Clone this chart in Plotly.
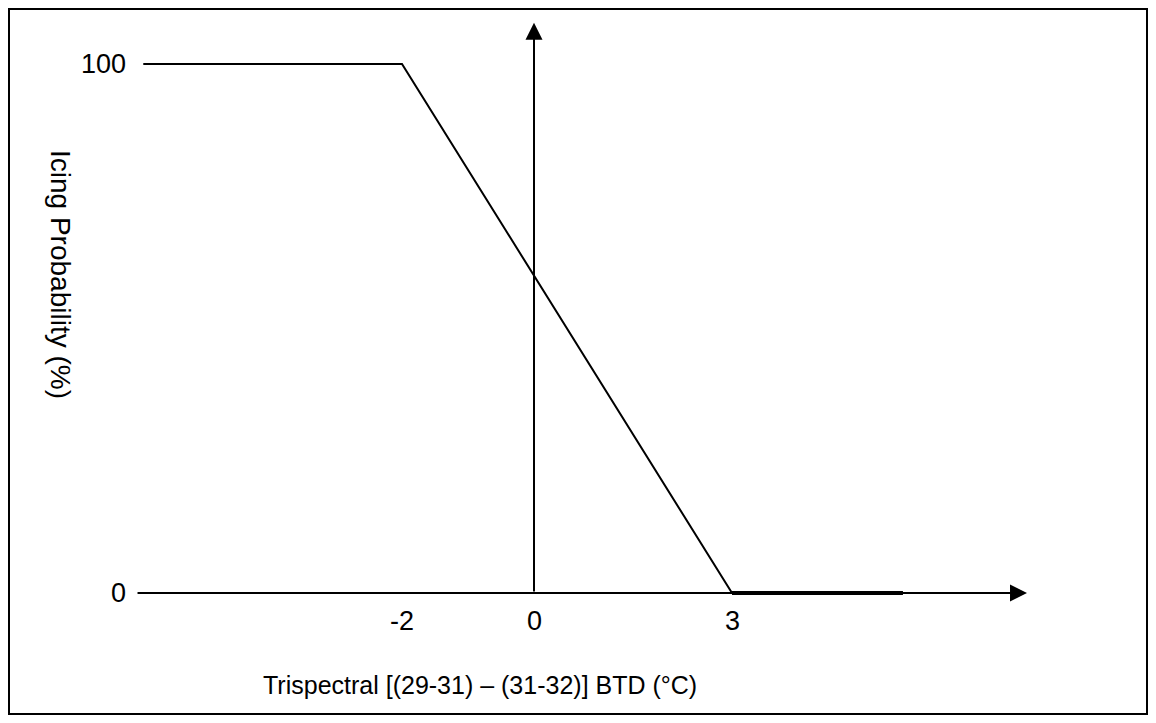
import plotly.graph_objects as go

# icing probability curve (BTD in deg C -> probability %)
prob_x = [-5.92, -2, 3]
prob_y = [100, 100, 0]
tail_x = [3, 5.59]
tail_y = [0, 0]

# axis extents (arrows)
haxis_x = [-6.03, 7.47]
vaxis_y = [0, 107.8]

x_ticks = [-2, 0, 3]
x_tick_text = ["-2", "0", "3"]
y_ticks = [0, 100]
y_tick_text = ["0", "100"]

x_title = "Trispectral [(29-31) \u2013 (31-32)] BTD (\u00b0C)"
y_title = "Icing Probability (%)"

FONT = "Liberation Sans, Arial, sans-serif"
W, H = 1140, 707  # page body has an 8px margin

fig = go.Figure()
fig.add_trace(go.Scatter(x=prob_x, y=prob_y, mode="lines",
                         line=dict(color="black", width=2), hoverinfo="skip"))
fig.add_trace(go.Scatter(x=tail_x, y=tail_y, mode="lines",
                         line=dict(color="black", width=4), hoverinfo="skip"))

# axes drawn as arrows
fig.add_annotation(x=haxis_x[1], y=0, ax=haxis_x[0], ay=0, xref="x", yref="y",
                   axref="x", ayref="y", text="", showarrow=True,
                   arrowhead=2, arrowsize=1.7, arrowwidth=2, arrowcolor="black")
fig.add_annotation(x=0, y=vaxis_y[1], ax=0, ay=vaxis_y[0], xref="x", yref="y",
                   axref="x", ayref="y", text="", showarrow=True,
                   arrowhead=2, arrowsize=1.7, arrowwidth=2, arrowcolor="black")

for v, t in zip(x_ticks, x_tick_text):
    fig.add_annotation(x=v, y=0, text=t, showarrow=False, yanchor="top", yshift=-11,
                       font=dict(family=FONT, size=27, color="black"))
for v, t in zip(y_ticks, y_tick_text):
    fig.add_annotation(x=haxis_x[0], y=v, text=t, showarrow=False, xanchor="right",
                       xshift=-8, font=dict(family=FONT, size=27, color="black"))

fig.add_annotation(x=472 / W, y=1 - 677 / H, xref="paper", yref="paper",
                   xanchor="center", yanchor="middle",
                   text=x_title, showarrow=False,
                   font=dict(family=FONT, size=25, color="black"))
fig.add_annotation(x=53 / W, y=1 - 266 / H, xref="paper", yref="paper",
                   xanchor="center", yanchor="middle",
                   text=y_title, showarrow=False, textangle=90,
                   font=dict(family=FONT, size=28, color="black"))

# frame around figure
fig.add_shape(type="rect", xref="paper", yref="paper",
              x0=1 / W, x1=1139 / W, y0=1 / H, y1=1 - 1 / H,
              line=dict(color="black", width=2))

fig.update_xaxes(range=[-526 / 66, (W - 526) / 66], visible=False)
fig.update_yaxes(range=[(585 - H) / 5.29, 585 / 5.29], visible=False)
fig.update_layout(width=W, height=H, margin=dict(l=0, r=0, t=0, b=0),
                  showlegend=False, plot_bgcolor="white", paper_bgcolor="white")

fig.write_html("out.html")
